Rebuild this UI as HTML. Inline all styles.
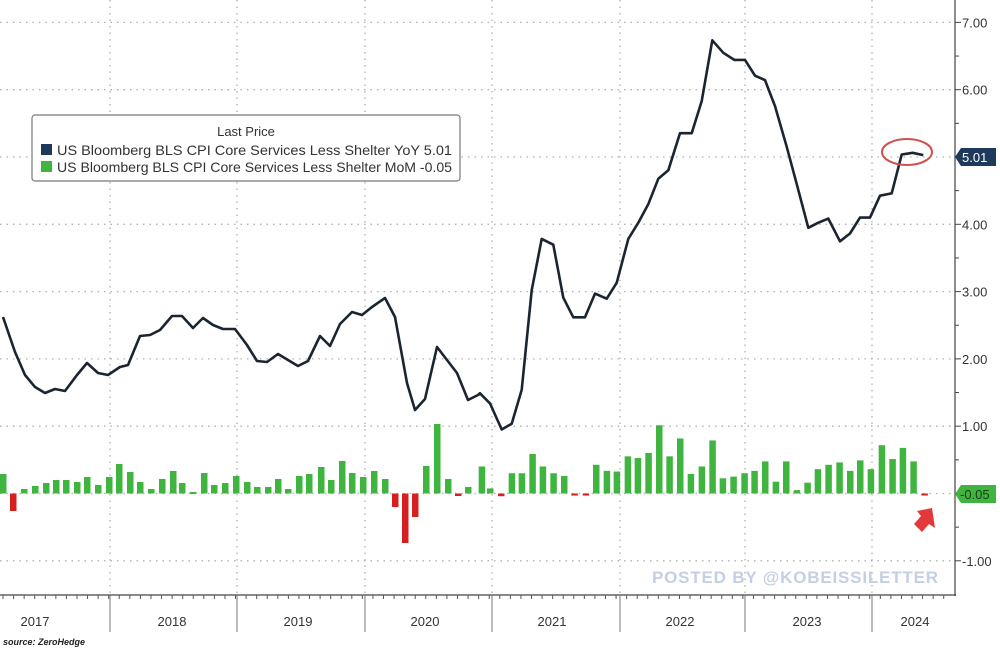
<!DOCTYPE html>
<html><head><meta charset="utf-8"><style>
html,body{margin:0;padding:0;background:#fff;}
svg{display:block;font-family:"Liberation Sans",sans-serif;}
</style></head><body>
<svg id="s" width="1000" height="652" viewBox="0 0 1000 652" xmlns="http://www.w3.org/2000/svg">
<g id="grid" stroke="#b0b0b0" stroke-width="1.3" stroke-dasharray="1.5,5"></g>
<g id="bars"></g>
<polyline id="ln" fill="none" stroke="#1b2531" stroke-width="2.6" stroke-linejoin="round"/>
<line x1="955" y1="0" x2="955" y2="596" stroke="#444" stroke-width="1.2"/>
<line x1="0" y1="595" x2="956" y2="595" stroke="#444" stroke-width="1.2"/>
<g id="ax" font-size="13" fill="#333"></g>
<rect x="32" y="115" width="428" height="66" rx="3" fill="#fff" stroke="#777" stroke-width="1.2"/>
<text x="246" y="136" font-size="13" text-anchor="middle" fill="#333">Last Price</text>
<rect x="41" y="144" width="11" height="11" fill="#1d3a5c"/>
<text x="57" y="155" font-size="14" fill="#333" textLength="395" lengthAdjust="spacingAndGlyphs">US Bloomberg BLS CPI Core Services Less Shelter YoY  5.01</text>
<rect x="41" y="161" width="11" height="11" fill="#3fb43f"/>
<text x="57" y="172" font-size="14" fill="#333" textLength="395" lengthAdjust="spacingAndGlyphs">US Bloomberg BLS CPI Core Services Less Shelter MoM  -0.05</text>
<ellipse cx="907" cy="152" rx="25" ry="13" fill="none" stroke="#d05050" stroke-width="2"/>
<path d="M955 157 L961 148 L996 148 L996 166 L961 166 Z" fill="#1d3a5c"/>
<text x="962" y="162" font-size="13" fill="#fff">5.01</text>
<path d="M955 494 L961 485 L996 485 L996 503 L961 503 Z" fill="#3fb43f"/>
<text x="960" y="499" font-size="13" fill="#1a3a1a">-0.05</text>
<path d="M932 508 L935 528 L929 524 L922 532 L914 524 L921 516 L917 511 Z" fill="#e23a3a"/>
<text x="652" y="583" font-size="17" font-weight="bold" fill="#c3cfe3" textLength="286">POSTED BY @KOBEISSILETTER</text>
<text x="3" y="645" font-size="9" font-style="italic" font-weight="bold" fill="#222">source: ZeroHedge</text>
</svg>
<script>
var NS="http://www.w3.org/2000/svg";
function el(t,a,p){var e=document.createElementNS(NS,t);for(var k in a)e.setAttribute(k,a[k]);document.getElementById(p).appendChild(e);return e;}
function Y(v){return 493.5-67.3*v;}
for(var v=-1;v<=7;v++){el('line',{x1:0,x2:955,y1:Y(v),y2:Y(v)},'grid');}
var seps=[110,237,365,492,620,745,872];
seps.forEach(function(x){el('line',{x1:x,x2:x,y1:0,y2:595},'grid');});
for(var v=-1;v<=7;v++){ if(v===0||v===5)continue;
 el('line',{x1:955,x2:961,y1:Y(v),y2:Y(v),stroke:'#444'},'ax');
 var t=el('text',{x:962,y:Y(v)+5},'ax');t.textContent=(v<0?'-':'')+Math.abs(v).toFixed(2);}
for(var v=-0.5;v<7;v+=1){el('line',{x1:955,x2:959,y1:Y(v),y2:Y(v),stroke:'#444'},'ax');}
seps.forEach(function(x){el('line',{x1:x,x2:x,y1:595,y2:632,stroke:'#777'},'ax');});
for(var i=0;i<90;i++){var x=3+i*10.57;if(x<955)el('line',{x1:x,x2:x,y1:595,y2:599,stroke:'#555'},'ax');}
var yrs=[[35,'2017'],[172,'2018'],[298,'2019'],[425,'2020'],[552,'2021'],[680,'2022'],[807,'2023'],[915,'2024']];
yrs.forEach(function(a){var t=el('text',{x:a[0],y:626,'text-anchor':'middle','font-size':13},'ax');t.textContent=a[1];});
var p1=[[3,317],[15,352],[25,375],[35,387],[45,393],[55,389],[65,391],[77,375],[87,363],[98,373],[108,375],[120,367],[128,365],[140,336],[150,335],[160,330],[172,316],[182,316],[193,328],[203,318],[213,325],[223,329],[235,329],[247,345],[257,361],[267,362],[278,354],[288,360],[298,366],[308,361],[320,336],[330,346],[340,324],[352,312],[362,315],[372,307],[385,298],[395,317],[407,383],[415,410],[425,399],[437,347],[447,360],[457,373],[468,400],[478,395]];
var z2=[[0,1105],[30,1135],[65,1212],[95,1195],[125,1095],[155,800],[185,648],[220,665],[250,822],[280,880],[315,880],[345,810],[380,825],[410,778],[445,648],[475,600],[505,545],[535,470],[565,445],[600,335],[635,335],[665,240],[697,60],[730,97],[763,118],[795,118],[825,165],[855,178],[885,255],[920,375],[950,485],[985,615],[1015,600],[1045,588],[1080,655],[1110,632],[1140,585],[1170,585],[1200,520],[1235,513],[1265,398],[1298,393],[1330,400]];
var pts=p1.concat(z2.map(function(a){return [480+a[0]/3,20+a[1]/2.96];}));
document.getElementById('ln').setAttribute('points',pts.map(function(a){return a[0].toFixed(1)+','+a[1].toFixed(1);}).join(' '));
var Z=Y(0);
var b1=[[3,474],[13,511],[24,489],[35,486],[46,483],[56,480],[66,480],[77,482],[87,477],[98,485],[109,477],[119,464],[130,472],[140,482],[151,489],[162,479],[173,471],[182,483],[193,492],[204,473],[214,485],[225,483],[236,476],[247,482],[257,487],[268,487],[278,479],[288,489],[299,476],[309,474],[321,467],[331,480],[342,461],[352,473],[363,477],[374,471],[385,479],[395,507],[405,543],[415,517],[426,466],[437,424],[448,479],[458,496],[468,487]];
var b2=[[5,1320],[30,1385],[63,1408],[95,1340],[125,1340],[157,1283],[188,1320],[220,1340],[252,1348],[283,1406],[317,1406],[348,1315],[380,1333],[410,1335],[443,1290],[473,1295],[505,1280],[537,1198],[568,1290],[600,1237],[632,1342],[665,1320],[697,1243],[728,1355],[760,1350],[793,1340],[823,1333],[855,1305],[887,1365],[918,1305],[950,1390],[982,1368],[1013,1328],[1045,1315],[1078,1308],[1110,1333],[1140,1302],[1172,1328],[1205,1257],[1237,1298],[1268,1265],[1300,1305],[1333,1406]];
var bars=b1.concat(b2.map(function(a){return [480+a[0]/3, Z-(1400-a[1])/2.96];}));
bars.forEach(function(b){var x=b[0],y=b[1];var top=Math.min(y,Z),h=Math.abs(y-Z);if(h<2){h=2;}
 el('rect',{x:x-3,y:top,width:6.5,height:h,fill:(y>Z+0.5?'#d42020':'#3fb43f')},'bars');});
</script>
</body></html>
